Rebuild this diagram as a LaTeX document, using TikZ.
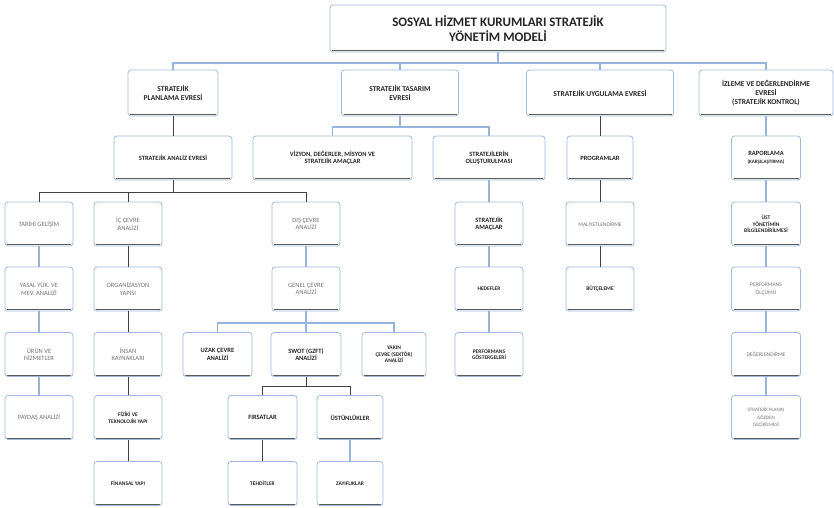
\documentclass[tikz,border=0pt]{standalone}
\usepackage{fontspec}
\setmainfont{Carlito}
\usepackage{tikz}
\usetikzlibrary{calc}
\definecolor{boxline}{RGB}{160,186,222}
\definecolor{linkblue}{RGB}{150,180,220}

\begin{document}
\begin{tikzpicture}[x=1pt, y=-1pt,
    box/.style={rectangle, draw=boxline, line width=0.8pt, fill=white,
                rounded corners=3pt, minimum width=68pt, minimum height=44pt,
                align=center, inner sep=2pt, text=black!85,
                font=\fontsize{6.5}{7.5}\selectfont\bfseries,
                path picture={\draw[black!65, line width=1.4pt]
                  ([xshift=2pt, yshift=1.3pt]path picture bounding box.south west) --
                  ([xshift=-2pt, yshift=1.3pt]path picture bounding box.south east);}},
    topbox/.style={box, minimum width=336pt, minimum height=47pt,
                   font=\fontsize{13}{15}\selectfont\bfseries},
    phase/.style={box, minimum height=46pt, font=\fontsize{7.5}{9}\selectfont\bfseries},
    light/.style={text=black!55, font=\fontsize{6.5}{7.5}\selectfont},
    tiny/.style={font=\fontsize{5.5}{6.5}\selectfont\bfseries},
    conn/.style={draw=linkblue, line width=1.6pt},
    dconn/.style={draw=black!75, line width=0.9pt}]

    \useasboundingbox (0,0) rectangle (834,507);

    % Title
    \node[topbox] (root) at (498,28.5) {SOSYAL HİZMET KURUMLARI STRATEJİK\\YÖNETİM MODELİ};

    % Phases
    \node[phase, minimum width=90pt] (plan) at (173,93) {STRATEJİK\\PLANLAMA EVRESİ};
    \node[phase, minimum width=117pt] (tas) at (400,93) {STRATEJİK TASARIM\\EVRESİ};
    \node[phase, minimum width=147pt] (uyg) at (600,93) {STRATEJİK UYGULAMA EVRESİ};
    \node[phase, minimum width=134pt] (izl) at (766,93) {İZLEME VE DEĞERLENDİRME\\EVRESİ\\(STRATEJİK KONTROL)};

    % Second row
    \node[box, minimum width=118pt] (analiz) at (173,158) {STRATEJİK ANALİZ EVRESİ};
    \node[box, minimum width=159pt] (viz) at (332.5,158) {VİZYON, DEĞERLER, MİSYON VE\\STRATEJİK AMAÇLAR};
    \node[box, minimum width=112pt] (strol) at (489,158) {STRATEJİLERİN\\OLUŞTURULMASI};
    \node[box, minimum width=66pt] (prog) at (600,158) {PROGRAMLAR};
    \node[box, minimum width=69pt] (rapor) at (766,158) {RAPORLAMA\\{\fontsize{5}{6}\selectfont(KARŞILAŞTIRMA)}};

    % Analysis columns
    \node[box, light] (tarihi) at (39,224) {TARİHİ GELİŞİM};
    \node[box, light] (yasal) at (39,289) {YASAL YÜK. VE\\MEV. ANALİZİ};
    \node[box, light] (urun) at (39,354.5) {ÜRÜN VE\\HİZMETLER};
    \node[box, light] (paydas) at (39,417.5) {PAYDAŞ ANALİZİ};

    \node[box, light] (ic) at (128,224) {İÇ ÇEVRE\\ANALİZİ};
    \node[box, light] (org) at (128,289) {ORGANİZASYON\\YAPISI};
    \node[box, light] (insan) at (128,354.5) {İNSAN\\KAYNAKLARI};
    \node[box, tiny] (fizik) at (128,417.5) {FİZİKİ VE\\TEKNOLOJİK YAPI};
    \node[box, tiny] (finans) at (128,483.5) {FİNANSAL YAPI};

    \node[box, light] (dis) at (306,224) {DIŞ ÇEVRE\\ANALİZİ};
    \node[box, light] (genel) at (306,289) {GENEL ÇEVRE\\ANALİZİ};
    \node[box, minimum width=69pt] (uzak) at (217.5,354.5) {UZAK ÇEVRE\\ANALİZİ};
    \node[box, minimum width=70pt] (swot) at (306,354.5) {SWOT (GZFT)\\ANALİZİ};
    \node[box, tiny, minimum width=64pt] (yakin) at (394,354.5) {YAKIN\\ÇEVRE (SEKTÖR)\\ANALİZİ};
    \node[box, minimum width=69pt] (firsat) at (262.5,417.5) {FIRSATLAR};
    \node[box, minimum width=66pt] (ustun) at (350,417.5) {ÜSTÜNLÜKLER};
    \node[box, tiny, minimum width=69pt] (tehdit) at (262.5,483.5) {TEHDİTLER};
    \node[box, tiny, minimum width=66pt] (zayif) at (350,483.5) {ZAYIFLIKLAR};

    % Design, implementation, control columns
    \node[box] (samac) at (489,224) {STRATEJİK\\AMAÇLAR};
    \node[box, tiny] (hedef) at (489,289) {HEDEFLER};
    \node[box, tiny] (pgost) at (489,354.5) {PERFORMANS\\GÖSTERGELERİ};

    \node[box, light] (maliyet) at (600,224) {\fontsize{5.5}{6.5}\selectfont MALİYETLENDİRME};
    \node[box, tiny] (butce) at (600,289) {BÜTÇELEME};

    \node[box, tiny, minimum width=69pt] (ust) at (766,224) {ÜST\\YÖNETİMİN\\BİLGİLENDİRİLMESİ};
    \node[box, light, minimum width=69pt] (perfolc) at (766,289) {\fontsize{5.5}{6.5}\selectfont PERFORMANS\\\fontsize{5.5}{6.5}\selectfont ÖLÇÜMÜ};
    \node[box, light, minimum width=69pt] (deger) at (766,354.5) {\fontsize{5.5}{6.5}\selectfont DEĞERLENDİRME};
    \node[box, light, minimum width=69pt] (sgoz) at (766,417.5) {\fontsize{5}{6}\selectfont STRATEJİK PLANIN\\\fontsize{5}{6}\selectfont GÖZDEN\\\fontsize{5}{6}\selectfont GEÇİRİLMESİ};

    % Branches
    \foreach \c in {plan,tas,uyg,izl}
        \draw[conn] (root.south) -- (root.south |- 0,63) -| (\c.north);
    \foreach \c in {viz,strol}
        \draw[conn] (tas.south) -- (tas.south |- 0,127) -| (\c.north);
    \foreach \c in {tarihi,ic,dis}
        \draw[dconn] (analiz.south) -- (analiz.south |- 0,192) -| (\c.north);
    \foreach \c in {uzak,swot,yakin}
        \draw[conn] (genel.south) -- (genel.south |- 0,323) -| (\c.north);
    \foreach \c in {firsat,ustun}
        \draw[dconn] (swot.south) -- (swot.south |- 0,386) -| (\c.north);

    % Chains
    \draw[dconn] (plan) -- (analiz);
    \draw[dconn] (uyg) -- (prog);
    \draw[conn] (izl.south) -- (izl.south |- rapor.north);
    \draw[conn] (tarihi) -- (yasal);
    \draw[conn] (yasal) -- (urun);
    \draw[conn] (urun) -- (paydas);
    \draw[dconn] (ic) -- (org);
    \draw[dconn] (org) -- (insan);
    \draw[dconn] (insan) -- (fizik);
    \draw[dconn] (fizik) -- (finans);
    \draw[conn] (dis) -- (genel);
    \draw[conn] (strol) -- (samac);
    \draw[conn] (samac) -- (hedef);
    \draw[conn] (hedef) -- (pgost);
    \draw[dconn] (prog) -- (maliyet);
    \draw[dconn] (maliyet) -- (butce);
    \draw[conn] (rapor) -- (ust);
    \draw[conn] (ust) -- (perfolc);
    \draw[conn] (perfolc) -- (deger);
    \draw[conn] (deger) -- (sgoz);
    \draw[dconn] (firsat) -- (tehdit);
    \draw[conn] (ustun) -- (zayif);

\end{tikzpicture}
\end{document}
